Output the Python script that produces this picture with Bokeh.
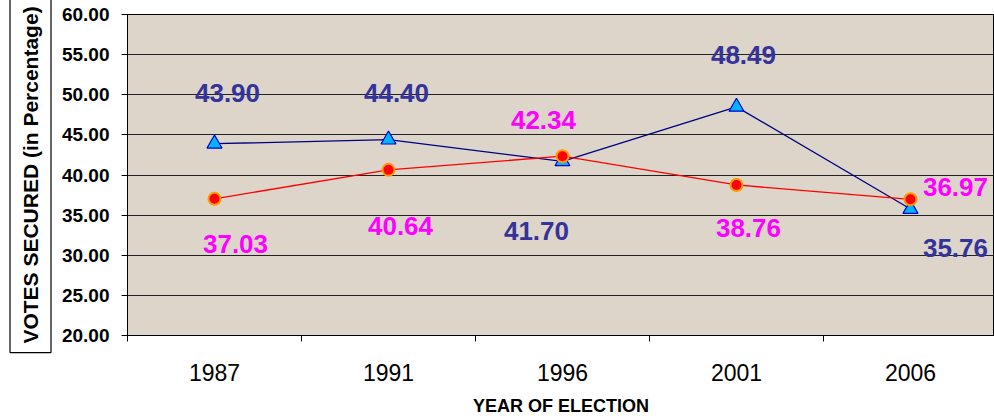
from bokeh.plotting import figure
from bokeh.models import ColumnDataSource, Range1d, FixedTicker, Title, NumeralTickFormatter
from bokeh.core.properties import value
from bokeh.embed import file_html
from bokeh.resources import INLINE

years = ["1987", "1991", "1996", "2001", "2006"]
blue_votes = [43.90, 44.40, 41.70, 48.49, 35.76]
red_votes = [37.03, 40.64, 42.34, 38.76, 36.97]
y_ticks = [20, 25, 30, 35, 40, 45, 50, 55, 60]

# label offsets in screen pixels (right, down)
blue_dx = [13, 8, -26, 7, 45]
blue_dy = [-51, -47, 70, -52, 39]
red_dx = [21, 12, -19, 12, 45]
red_dy = [45, 56, -36, 43, -12]

xs = list(range(len(years)))

p = figure(width=994, height=418, output_backend="svg", toolbar_location=None,
           x_range=Range1d(-0.5, 4.483), y_range=Range1d(20, 60),
           min_border_left=127, min_border_right=0, min_border_top=14, min_border_bottom=80)
p.background_fill_color = "#DDD5C9"
p.border_fill_color = "white"
p.outline_line_color = "black"

# axes
p.yaxis.ticker = FixedTicker(ticks=y_ticks)
p.yaxis.formatter = NumeralTickFormatter(format="0.00")
p.yaxis.major_label_text_font = "Liberation Sans"
p.yaxis.major_label_text_font_style = "bold"
p.yaxis.major_label_text_font_size = "19px"
p.yaxis.major_label_text_color = "black"
p.yaxis.major_tick_out = 6
p.yaxis.major_tick_in = 0
p.yaxis.minor_tick_line_color = None
p.yaxis.axis_line_color = "black"
p.yaxis.major_tick_line_color = "black"
p.yaxis.major_label_standoff = 12

p.xaxis.ticker = FixedTicker(ticks=xs, minor_ticks=[i - 0.5 for i in range(len(years) + 1)])
p.xaxis.major_label_overrides = {i: y for i, y in enumerate(years)}
p.xaxis.major_tick_out = 0
p.xaxis.major_tick_in = 0
p.xaxis.minor_tick_out = 6
p.xaxis.minor_tick_in = 0
p.xaxis.minor_tick_line_color = "black"
p.xaxis.axis_line_color = "black"
p.xaxis.major_label_text_font = "Liberation Sans"
p.xaxis.major_label_text_font_size = "23px"
p.xaxis.major_label_text_color = "black"
p.xaxis.major_label_standoff = 22
p.xaxis.axis_label = "YEAR OF ELECTION"
p.xaxis.axis_label_text_font = "Liberation Sans"
p.xaxis.axis_label_text_font_style = "bold"
p.xaxis.axis_label_text_font_size = "18px"
p.xaxis.axis_label_text_color = "black"
p.xaxis.axis_label_standoff = 12

p.xgrid.grid_line_color = None
p.ygrid.ticker = FixedTicker(ticks=y_ticks)
p.ygrid.grid_line_color = "#222222"
p.ygrid.grid_line_width = 1

# series
bsrc = ColumnDataSource(dict(x=xs, y=blue_votes, t=["%.2f" % v for v in blue_votes], dx=blue_dx, dy=blue_dy))
rsrc = ColumnDataSource(dict(x=xs, y=red_votes, t=["%.2f" % v for v in red_votes], dx=red_dx, dy=red_dy))

p.line("x", "y", source=bsrc, line_color="#000080", line_width=1.3)
p.line("x", "y", source=rsrc, line_color="#FF0000", line_width=1.3)
p.scatter("x", "y", source=bsrc, marker="triangle", size=15, fill_color="#00B4FF",
          line_color="#0000CC", line_width=1.2)
p.scatter("x", "y", source=rsrc, marker="circle", size=12, fill_color="#FF0000",
          line_color="#FF9900", line_width=2)

p.text("x", "y", text="t", source=bsrc, x_offset="dx", y_offset="dy",
       text_font=value("Liberation Sans"), text_font_style="bold", text_font_size="26px",
       text_color="#333399", text_align="center", text_baseline="middle")
p.text("x", "y", text="t", source=rsrc, x_offset="dx", y_offset="dy",
       text_font=value("Liberation Sans"), text_font_style="bold", text_font_size="26px",
       text_color="#FF00FF", text_align="center", text_baseline="middle")

# boxed y axis title
ylab = Title(text="VOTES SECURED (in Percentage)", align="center",
             text_font="Liberation Sans", text_font_style="bold", text_font_size="21px",
             text_color="black", border_line_color="black", border_line_width=1.2,
             background_fill_color="white", padding=9, standoff=15, offset=-16)
p.add_layout(ylab, "left")

open("out.html", "w").write(file_html(p, INLINE))
